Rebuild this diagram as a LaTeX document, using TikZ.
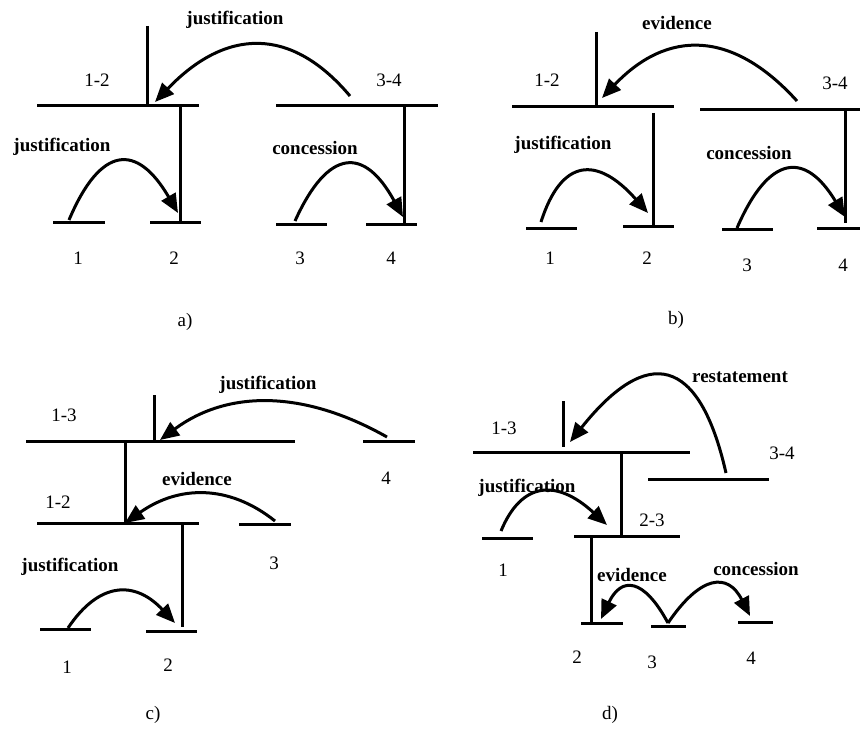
\documentclass[tikz,border=0pt]{standalone}
\usepackage{fontspec}
\setmainfont{Liberation Serif}
\usetikzlibrary{arrows.meta}
\tikzset{
  seg/.style={line width=3pt},
  arc/.style={line width=3pt,-{Triangle[length=19pt,width=16pt]}},
  num/.style={font=\fontsize{19}{22}\selectfont, inner sep=0pt},
  rel/.style={font=\fontsize{19}{22}\selectfont\bfseries, inner sep=0pt},
}
\begin{document}
\begin{tikzpicture}[x=1pt,y=-1pt]
\useasboundingbox (0,0) rectangle (860,733);
% ---------------- panel a ----------------
\draw[seg] (147,26) coordinate (aV1) -- (147,106) coordinate (aV2);
\draw[seg] (37,106) coordinate (a12L) -- (199,106) coordinate (a12R);
\draw[seg] (180,106) coordinate (a12d) -- (180,222) coordinate (a2t);
\draw[seg] (276,106) coordinate (a34L) -- (438,106) coordinate (a34R);
\draw[seg] (404,106) coordinate (a34d) -- (404,224) coordinate (a4t);
\draw[seg] (53,222) coordinate (a1L) -- (105,222) coordinate (a1R);
\draw[seg] (150,222) coordinate (a2L) -- (201,222) coordinate (a2R);
\draw[seg] (276,224) coordinate (a3L) -- (327,224) coordinate (a3R);
\draw[seg] (366,224) coordinate (a4L) -- (417,224) coordinate (a4R);
\node[num] (la12) at (97,80) {1-2};
\node[num] (la34) at (389,80) {3-4};
\node[num] (la1) at (78,258) {1};
\node[num] (la2) at (174,258) {2};
\node[num] (la3) at (300,258) {3};
\node[num] (la4) at (391,258) {4};
\node[rel] (ra1) at (235,20) {justification};
\node[rel] (ra2) at (62,147) {justification};
\node[rel] (ra3) at (315,148) {concession};
\node[num] (capa) at (185,322) {a)};
\coordinate (aA1) at (350,96); \coordinate (aB1) at (155,102);
\draw[arc] (aA1) .. controls (291,26) and (226,28) .. (aB1);
\coordinate (aA2) at (69,220); \coordinate (aB2) at (178,213);
\draw[arc] (aA2) .. controls (100.7,145) and (137,142.7) .. (aB2);
\coordinate (aA3) at (295,221); \coordinate (aB3) at (403,217);
\draw[arc] (aA3) .. controls (328.3,147.7) and (364.3,146.3) .. (aB3);
% ---------------- panel b ----------------
\draw[seg] (596,32) coordinate (bV1) -- (596,107) coordinate (bV2);
\draw[seg] (512,107) coordinate (b12L) -- (674,107) coordinate (b12R);
\draw[seg] (653,113) coordinate (b12d) -- (653,226) coordinate (b2t);
\draw[seg] (700,110) coordinate (b34L) -- (860,110) coordinate (b34R);
\draw[seg] (845,110) coordinate (b34d) -- (845,223) coordinate (b4t);
\draw[seg] (526,228) coordinate (b1L) -- (577,228) coordinate (b1R);
\draw[seg] (623,226) coordinate (b2L) -- (674,226) coordinate (b2R);
\draw[seg] (722,229) coordinate (b3L) -- (773,229) coordinate (b3R);
\draw[seg] (817,228) coordinate (b4L) -- (860,228) coordinate (b4R);
\node[num] (lb12) at (547,80) {1-2};
\node[num] (lb34) at (835,83) {3-4};
\node[num] (lb1) at (550,258) {1};
\node[num] (lb2) at (647,258) {2};
\node[num] (lb3) at (747,265) {3};
\node[num] (lb4) at (843,265) {4};
\node[rel] (rb1) at (677,23) {evidence};
\node[rel] (rb2) at (563,145) {justification};
\node[rel] (rb3) at (749,153) {concession};
\node[num] (capb) at (676,320) {b)};
\coordinate (bA1) at (797,101); \coordinate (bB1) at (602,98);
\draw[arc] (bA1) .. controls (732.7,30) and (667.7,29) .. (bB1);
\coordinate (bA2) at (541,222); \coordinate (bB2) at (648,213);
\draw[arc] (bA2) .. controls (561.3,158.3) and (597,155.3) .. (bB2);
\coordinate (bA3) at (737,228); \coordinate (bB3) at (845,217);
\draw[arc] (bA3) .. controls (769,154.3) and (805,150.7) .. (bB3);
% ---------------- panel c ----------------
\draw[seg] (154,395) coordinate (cV1) -- (154,441) coordinate (cV2);
\draw[seg] (26,441) coordinate (c13L) -- (295,441) coordinate (c13R);
\draw[seg] (125,441) coordinate (c13d) -- (125,523) coordinate (c12t);
\draw[seg] (37,523) coordinate (c12L) -- (199,523) coordinate (c12R);
\draw[seg] (182,523) coordinate (c12d) -- (182,627) coordinate (c2t);
\draw[seg] (363,441) coordinate (c4L) -- (415,441) coordinate (c4R);
\draw[seg] (239,524) coordinate (c3L) -- (291,524) coordinate (c3R);
\draw[seg] (40,629) coordinate (c1L) -- (91,629) coordinate (c1R);
\draw[seg] (146,631) coordinate (c2L) -- (197,631) coordinate (c2R);
\node[num] (lc13) at (64,415) {1-3};
\node[num] (lc12) at (58,502) {1-2};
\node[num] (lc4) at (386,478) {4};
\node[num] (lc3) at (274,563) {3};
\node[num] (lc1) at (67,667) {1};
\node[num] (lc2) at (168,665) {2};
\node[rel] (rc1) at (268,385) {justification};
\node[rel] (rc2) at (197,479) {evidence};
\node[rel] (rc3) at (70,567) {justification};
\node[num] (capc) at (153,715) {c)};
\coordinate (cA1) at (387,437); \coordinate (cB1) at (160,440);
\draw[arc] (cA1) .. controls (302.7,389.3) and (227,390.3) .. (cB1);
\coordinate (cA2) at (275,521); \coordinate (cB2) at (125,523);
\draw[arc] (cA2) .. controls (229,484.3) and (179,485) .. (cB2);
\coordinate (cA3) at (68,628); \coordinate (cB3) at (175,623);
\draw[arc] (cA3) .. controls (99,581.7) and (134.7,580) .. (cB3);
% ---------------- panel d ----------------
\draw[seg] (563,401) coordinate (dV1) -- (563,447) coordinate (dV2);
\draw[seg] (473,452) coordinate (d13L) -- (690,452) coordinate (d13R);
\draw[seg] (621,452) coordinate (d13d) -- (621,535) coordinate (d23t);
\draw[seg] (648,479) coordinate (d34L) -- (769,479) coordinate (d34R);
\draw[seg] (482,538) coordinate (d1L) -- (533,538) coordinate (d1R);
\draw[seg] (574,536) coordinate (d23L) -- (680,536) coordinate (d23R);
\draw[seg] (591,536) coordinate (d23d) -- (591,623) coordinate (d2t);
\draw[seg] (581,623) coordinate (d2L) -- (623,623) coordinate (d2R);
\draw[seg] (651,626) coordinate (d3L) -- (686,626) coordinate (d3R);
\draw[seg] (738,622) coordinate (d4L) -- (773,622) coordinate (d4R);
\node[num] (ld13) at (504,428) {1-3};
\node[num] (ld34) at (782,453) {3-4};
\node[num] (ld23) at (652,520) {2-3};
\node[num] (ld1) at (503,570) {1};
\node[num] (ld2) at (577,657) {2};
\node[num] (ld3) at (652,662) {3};
\node[num] (ld4) at (751,658) {4};
\node[rel] (rd1) at (740,377) {restatement};
\node[rel] (rd2) at (527,488) {justification};
\node[rel] (rd3) at (632,575) {evidence};
\node[rel] (rd4) at (756,569) {concession};
\node[num] (capd) at (610,715) {d)};
\coordinate (dA1) at (726,473); \coordinate (dB1) at (570,442);
\draw[arc] (dA1) .. controls (699.3,355.3) and (647.3,345) .. (dB1);
\coordinate (dA2) at (501,531); \coordinate (dB2) at (607,525);
\draw[arc] (dA2) .. controls (521.7,481) and (557,479) .. (dB2);
\coordinate (dA3) at (668,623); \coordinate (dB3) at (601,619);
\draw[arc] (dA3) .. controls (643.7,577.7) and (621.3,576.3) .. (dB3);
\coordinate (dB4) at (750,616);
\draw[arc] (dA3) .. controls (700.7,574.7) and (728,572.3) .. (dB4);
\end{tikzpicture}
\end{document}
